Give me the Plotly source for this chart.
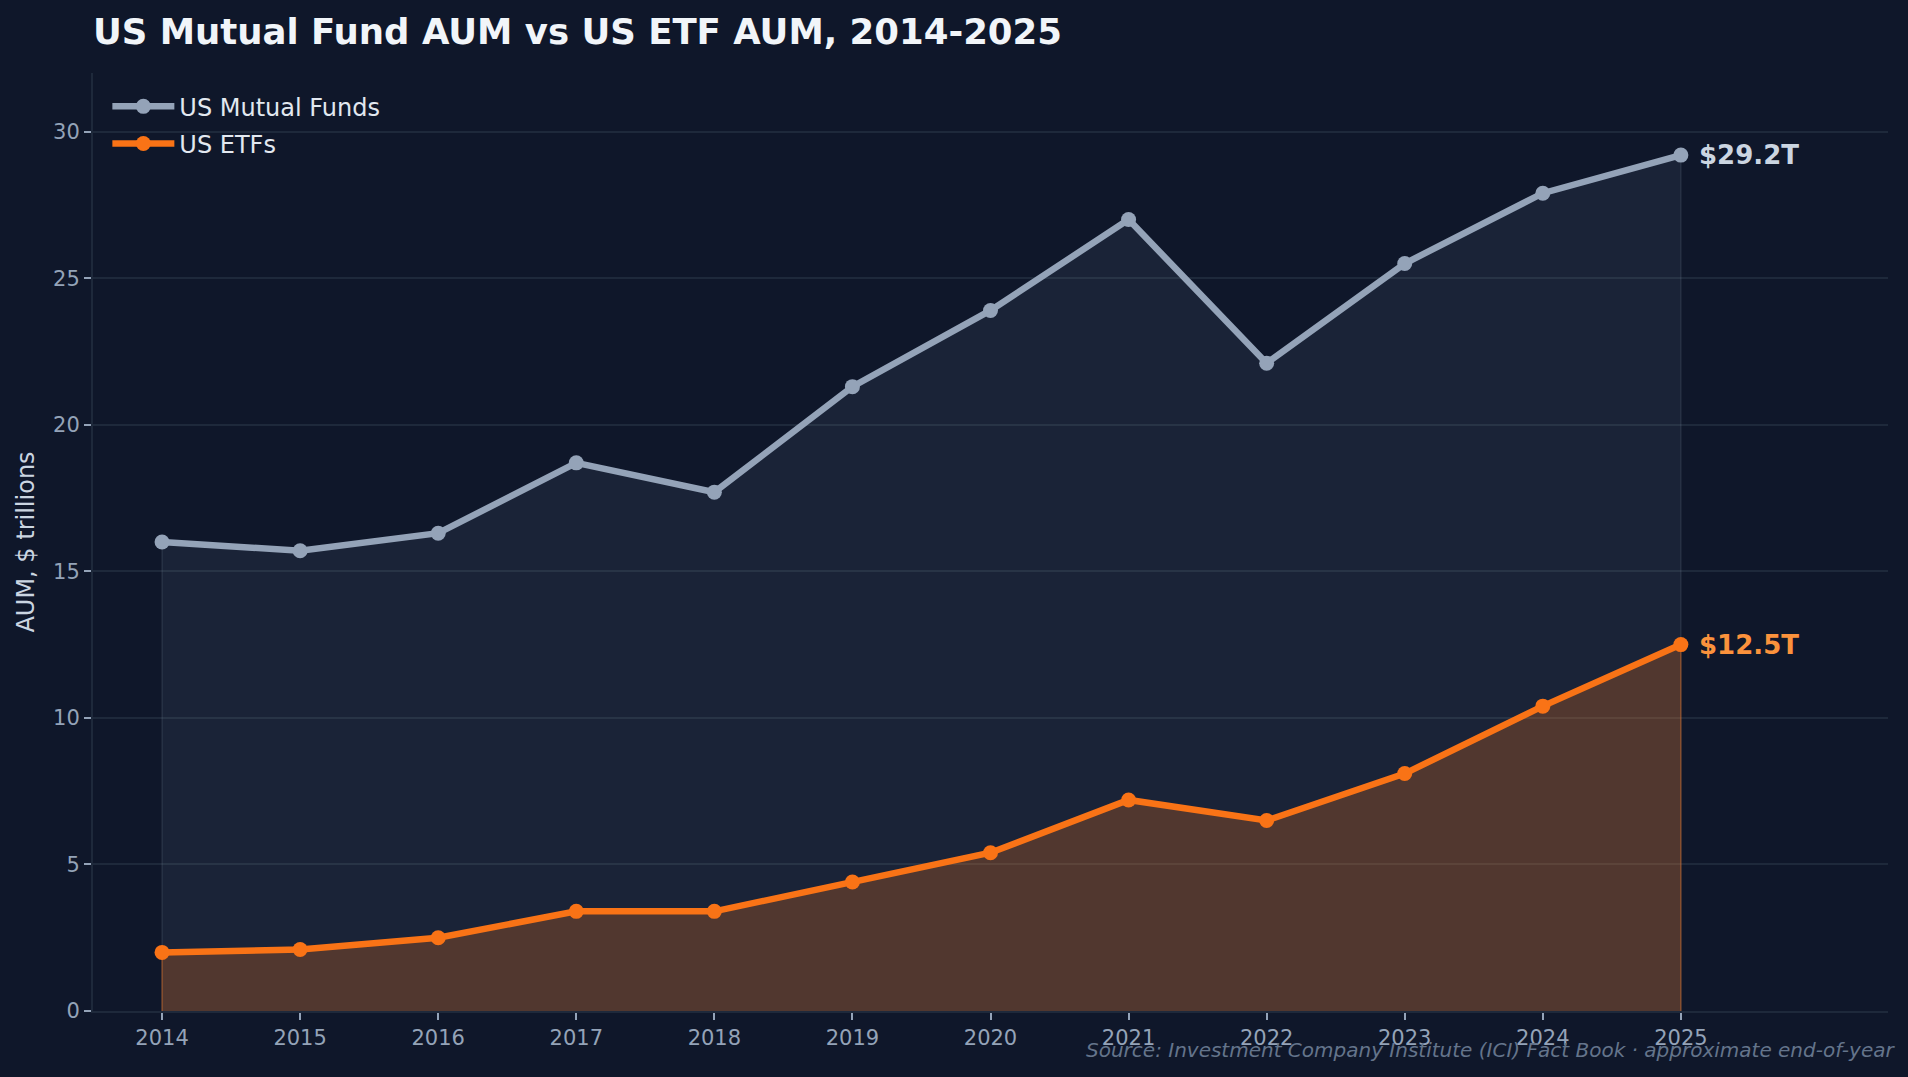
import plotly.graph_objects as go

years = [2014, 2015, 2016, 2017, 2018, 2019, 2020, 2021, 2022, 2023, 2024, 2025]
mutual_funds = [16.0, 15.7, 16.3, 18.7, 17.7, 21.3, 23.9, 27.0, 22.1, 25.5, 27.9, 29.2]
etfs = [2.0, 2.1, 2.5, 3.4, 3.4, 4.4, 5.4, 7.2, 6.5, 8.1, 10.4, 12.5]
y_ticks = [0, 5, 10, 15, 20, 25, 30]

BG = "#0f172a"
MF_COLOR = "#94a3b8"
ETF_COLOR = "#f97316"
FONT = "DejaVu Sans"

fig = go.Figure()

# filled areas (closed polygons so their edges show faintly, like fill_between)
fig.add_trace(go.Scatter(
    x=[years[0]] + years + [years[-1]], y=[0] + mutual_funds + [0],
    fill="toself", fillcolor="rgba(148,163,184,0.09)",
    line=dict(color="rgba(148,163,184,0.14)", width=1.5),
    mode="lines", showlegend=False, hoverinfo="skip"))
fig.add_trace(go.Scatter(
    x=[years[0]] + years + [years[-1]], y=[0] + etfs + [0],
    fill="toself", fillcolor="rgba(249,115,22,0.25)",
    line=dict(color="rgba(249,115,22,0.35)", width=1.5),
    mode="lines", showlegend=False, hoverinfo="skip"))

fig.add_trace(go.Scatter(
    x=years, y=mutual_funds, name="US Mutual Funds", mode="lines+markers",
    legendgroup="mf",
    line=dict(color=MF_COLOR, width=6.5), marker=dict(color=MF_COLOR, size=15)))
fig.add_trace(go.Scatter(
    x=years, y=etfs, name="US ETFs", mode="lines+markers",
    legendgroup="etf",
    line=dict(color=ETF_COLOR, width=6.5), marker=dict(color=ETF_COLOR, size=15)))

fig.add_annotation(x=years[-1], y=mutual_funds[-1], text=f"<b>${mutual_funds[-1]:.1f}T</b>",
                   xanchor="left", yanchor="middle", xshift=16, showarrow=False,
                   font=dict(family=FONT, size=26, color="#cbd5e1"))
fig.add_annotation(x=years[-1], y=etfs[-1], text=f"<b>${etfs[-1]:.1f}T</b>",
                   xanchor="left", yanchor="middle", xshift=16, showarrow=False,
                   font=dict(family=FONT, size=26, color="#fb923c"))

fig.add_annotation(xref="paper", yref="paper", x=1.005, y=-0.042,
                   text="<i>Source: Investment Company Institute (ICI) Fact Book · approximate end-of-year</i>",
                   xanchor="right", yanchor="middle", showarrow=False,
                   font=dict(family=FONT, size=20, color="#64748b"))

fig.update_layout(
    width=1908, height=1077,
    paper_bgcolor=BG, plot_bgcolor=BG,
    margin=dict(l=93, r=20, t=73, b=66),
    font=dict(family=FONT, color="#94a3b8"),
    title=dict(text="<b>US Mutual Fund AUM vs US ETF AUM, 2014-2025</b>",
               x=93 / 1908, xanchor="left", xref="container",
               y=1 - 32 / 1077, yanchor="middle",
               font=dict(family=FONT, size=35.5, color="#f1f5f9")),
    legend=dict(x=0.008, y=0.988, xanchor="left", yanchor="top",
                bgcolor="rgba(0,0,0,0)", font=dict(family=FONT, size=24, color="#e2e8f0"),
                itemwidth=62, tracegroupgap=3),
    showlegend=True,
)

fig.update_xaxes(range=[2013.5, 2026.5], tickmode="array", tickvals=years,
                 ticktext=[str(y) for y in years],
                 showgrid=False, zeroline=False,
                 showline=True, linecolor="#1e293b", linewidth=2,
                 ticks="outside", ticklen=7, tickwidth=1.5, tickcolor="#94a3b8",
                 tickfont=dict(family=FONT, size=21, color="#94a3b8"))
fig.update_yaxes(range=[0, 32], tickmode="array", tickvals=y_ticks,
                 showgrid=True, gridcolor="#1e293b", gridwidth=1.5, zeroline=False,
                 showline=True, linecolor="#1e293b", linewidth=2,
                 ticks="outside", ticklen=7, tickwidth=1.5, tickcolor="#94a3b8",
                 tickfont=dict(family=FONT, size=21, color="#94a3b8"),
                 title=dict(text="AUM, $ trillions", standoff=12,
                            font=dict(family=FONT, size=24, color="#cbd5e1")))

fig.write_html(
    "out.html",
    config={"displayModeBar": False},
    post_script="document.body.style.margin='0';document.body.style.padding='0';"
                "document.body.style.background='#0f172a';"
                "document.documentElement.style.background='#0f172a';",
)
